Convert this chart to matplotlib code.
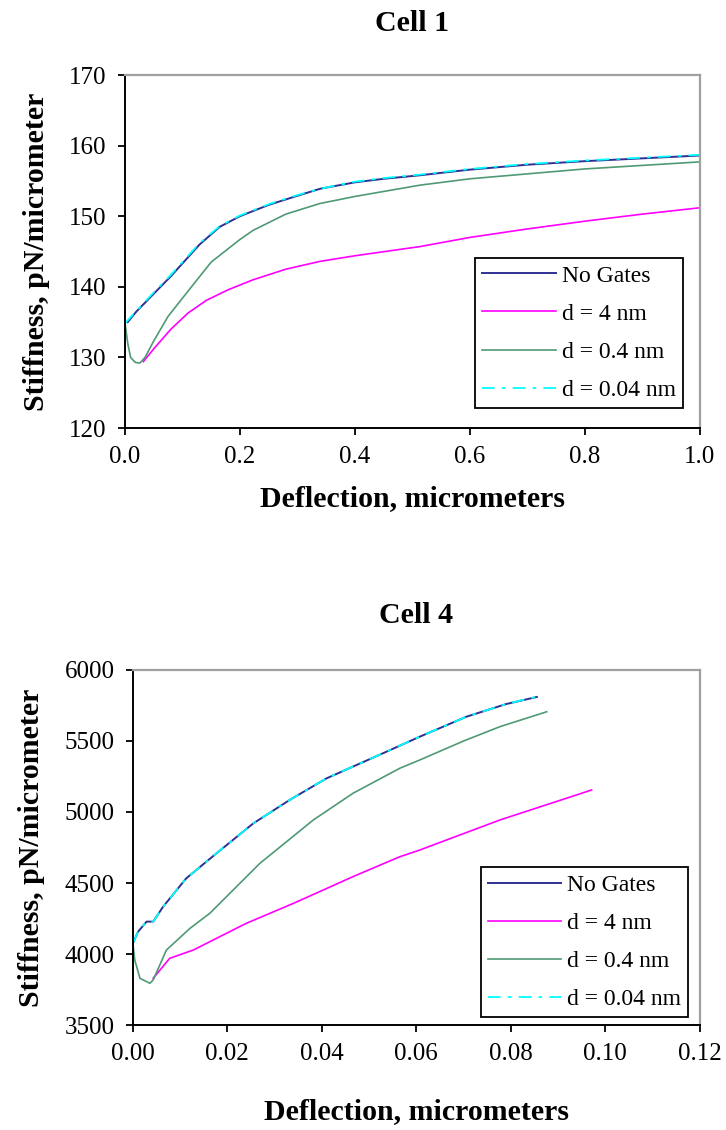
import numpy as np
import matplotlib
matplotlib.use("Agg")
import matplotlib.pyplot as plt

plt.rcParams['font.family'] = ['Liberation Serif', 'DejaVu Serif']

# Cell 1 data
c1_ng_x = [0.005, 0.02, 0.05, 0.08, 0.1, 0.13, 0.165, 0.2, 0.25, 0.3, 0.34, 0.4, 0.45, 0.513, 0.6, 0.7, 0.8, 0.9, 1.0]
c1_ng_y = [135.0, 136.5, 139.0, 141.5, 143.3, 146.0, 148.5, 150.0, 151.6, 152.9, 153.9, 154.8, 155.3, 155.8, 156.6, 157.3, 157.8, 158.2, 158.6]
c1_d4_x = [0.032, 0.05, 0.08, 0.11, 0.142, 0.18, 0.223, 0.28, 0.339, 0.4, 0.513, 0.6, 0.7, 0.8, 0.9, 1.0]
c1_d4_y = [129.4, 131.2, 134.0, 136.3, 138.1, 139.6, 141.0, 142.5, 143.6, 144.4, 145.7, 147.0, 148.2, 149.3, 150.3, 151.2]
c1_d04_x = [0.0, 0.005, 0.01, 0.018, 0.026, 0.035, 0.05, 0.075, 0.107, 0.15, 0.2, 0.223, 0.28, 0.339, 0.4, 0.513, 0.6, 0.7, 0.8, 0.9, 1.0]
c1_d04_y = [135.0, 132.0, 130.0, 129.3, 129.2, 130.0, 132.3, 135.8, 139.1, 143.5, 146.7, 148.0, 150.3, 151.8, 152.8, 154.4, 155.3, 156.0, 156.7, 157.2, 157.7]
c1_d004_x = [0.0, 0.02, 0.05, 0.08, 0.1, 0.13, 0.165, 0.2, 0.25, 0.3, 0.34, 0.4, 0.45, 0.513, 0.6, 0.7, 0.8, 0.9, 1.0]
c1_d004_y = [134.8, 136.6, 139.2, 141.7, 143.5, 146.2, 148.6, 150.1, 151.7, 153.0, 153.9, 154.9, 155.4, 155.9, 156.7, 157.4, 157.9, 158.3, 158.7]

# Cell 4 data
c4_ng_x = [0.0, 0.0011, 0.0029, 0.0043, 0.0064, 0.0113, 0.0177, 0.0255, 0.0332, 0.041, 0.0537, 0.0607, 0.0706, 0.079, 0.0855]
c4_ng_y = [4075, 4157, 4228, 4228, 4333, 4533, 4709, 4920, 5085, 5237, 5425, 5530, 5671, 5760, 5810]
c4_d4_x = [0.0043, 0.0078, 0.0128, 0.024, 0.034, 0.0466, 0.0565, 0.0607, 0.0777, 0.0971]
c4_d4_y = [3829, 3970, 4028, 4216, 4357, 4545, 4685, 4732, 4944, 5155]
c4_d04_x = [0.0, 0.0004, 0.0015, 0.0036, 0.0043, 0.0071, 0.0121, 0.0163, 0.0269, 0.0382, 0.0466, 0.0565, 0.0607, 0.07, 0.0777, 0.0876]
c4_d04_y = [4075, 3958, 3829, 3794, 3817, 4028, 4181, 4287, 4639, 4944, 5132, 5308, 5366, 5500, 5601, 5706]
c4_d004_x = [0.0, 0.0011, 0.0029, 0.0043, 0.0064, 0.0113, 0.0177, 0.0255, 0.0332, 0.041, 0.0537, 0.0607, 0.0706, 0.079, 0.0861]
c4_d004_y = [4075, 4157, 4228, 4228, 4333, 4533, 4709, 4920, 5085, 5237, 5425, 5530, 5671, 5760, 5817]

labels = ["No Gates", "d = 4 nm", "d = 0.4 nm", "d = 0.04 nm"]

fig = plt.figure(figsize=(7.26, 11.30), dpi=100)
ax1 = fig.add_axes([0.172, 0.6212, 0.792, 0.3124])
ax2 = fig.add_axes([0.183, 0.0929, 0.781, 0.3142])


def draw(ax, data, title, xlim, xticks, xfmt, ylim, yticks, leg_anchor, xpad, tpad):
    (ngx, ngy), (d4x, d4y), (d04x, d04y), (d004x, d004y) = data
    ax.plot(ngx, ngy, color="#2e3192", lw=1.4, label=labels[0])
    ax.plot(d4x, d4y, color="#ff00ff", lw=1.2, label=labels[1])
    ax.plot(d04x, d04y, color="#4f9a74", lw=1.2, label=labels[2])
    ax.plot(d004x, d004y, color="#00ffff", lw=1.3, dashes=(7, 4, 2, 4), label=labels[3])
    ax.set_xlim(*xlim)
    ax.set_ylim(*ylim)
    ax.set_xticks(xticks)
    ax.set_xticklabels([xfmt % v for v in xticks])
    ax.set_yticks(yticks)
    ax.tick_params(direction="out", length=5, width=1.3, labelsize=18, pad=8)
    for s in ["left", "bottom"]:
        ax.spines[s].set_color("black")
        ax.spines[s].set_linewidth(1.4)
    for s in ["top", "right"]:
        ax.spines[s].set_color("#a0a0a0")
        ax.spines[s].set_linewidth(1.6)
    ax.set_title(title, fontsize=21.5, fontweight="bold", pad=tpad)
    ax.set_xlabel("Deflection, micrometers", fontsize=21.5, fontweight="bold", labelpad=xpad)
    ax.set_ylabel("Stiffness, pN/micrometer", fontsize=21.5, fontweight="bold", labelpad=14)
    leg = ax.legend(loc="lower right", bbox_to_anchor=leg_anchor, borderaxespad=0,
                    fontsize=17, handlelength=3.1, labelspacing=0.7, fancybox=False,
                    framealpha=1, edgecolor="black", borderpad=0.3, handletextpad=0.25)
    leg.get_frame().set_linewidth(1.3)


draw(ax1, [(c1_ng_x, c1_ng_y), (c1_d4_x, c1_d4_y), (c1_d04_x, c1_d04_y), (c1_d004_x, c1_d004_y)],
     "Cell 1", (0, 1.0), [0, 0.2, 0.4, 0.6, 0.8, 1.0], "%.1f", (120, 170),
     [120, 130, 140, 150, 160, 170], (0.970, 0.057), 12, 32)
draw(ax2, [(c4_ng_x, c4_ng_y), (c4_d4_x, c4_d4_y), (c4_d04_x, c4_d04_y), (c4_d004_x, c4_d004_y)],
     "Cell 4", (0, 0.12), [0, 0.02, 0.04, 0.06, 0.08, 0.10, 0.12], "%.2f", (3500, 6000),
     [3500, 4000, 4500, 5000, 5500, 6000], (0.979, 0.0225), 24, 34)

fig.savefig("out.png", dpi=100)
